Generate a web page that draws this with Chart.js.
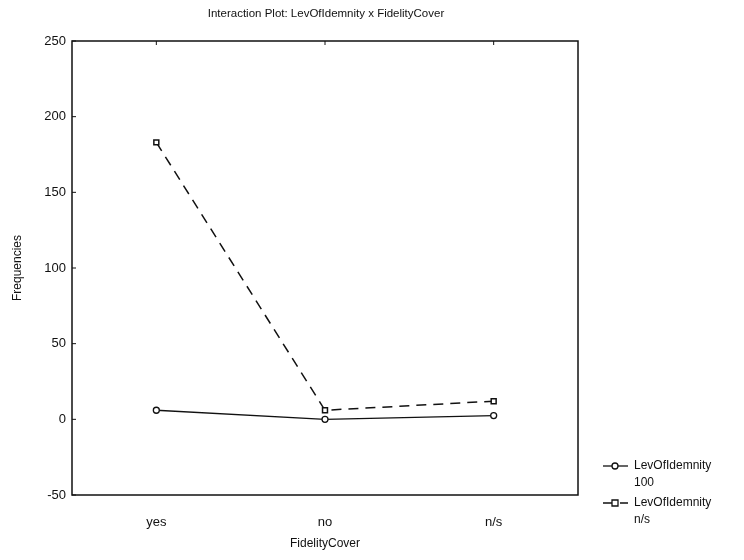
<!DOCTYPE html>
<html>
<head>
<meta charset="utf-8">
<script src="https://cdn.jsdelivr.net/npm/chart.js@4"></script>
<style>
  html, body { margin: 0; padding: 0; background: #fff; }
  #wrap { width: 744px; height: 560px; position: relative; }
</style>
</head>
<body>
<div id="wrap"><canvas id="chart"></canvas></div>
<script>
// categories and series
const categories = ["yes", "no", "n/s"]
const series100 = [6, 0, 2.5]
const seriesNS = [183, 6, 12]
const seriesNames = [["LevOfIdemnity", "100"], ["LevOfIdemnity", "n/s"]]
const yTicks = [-50, 0, 50, 100, 150, 200, 250]

const FONT = "'Liberation Sans', Arial, sans-serif"

// frame, inward ticks, title and the right-hand legend
const framePlugin = {
  id: "frame",
  afterDraw(chart) {
    const ctx = chart.ctx
    const a = chart.chartArea
    const xs = chart.scales.x
    const ys = chart.scales.y
    ctx.save()
    ctx.strokeStyle = "#111"
    ctx.lineWidth = 1.5
    ctx.strokeRect(a.left, a.top, a.right - a.left, a.bottom - a.top)
    ctx.lineWidth = 1
    yTicks.forEach((v) => {
      const y = ys.getPixelForValue(v)
      ctx.beginPath()
      ctx.moveTo(a.left, y)
      ctx.lineTo(a.left + 4, y)
      ctx.stroke()
    })
    categories.forEach((c, i) => {
      const x = xs.getPixelForValue(i)
      ctx.beginPath()
      ctx.moveTo(x, a.top)
      ctx.lineTo(x, a.top + 4)
      ctx.stroke()
    })

    // title
    ctx.fillStyle = "#111"
    ctx.font = "11.5px " + FONT
    ctx.textAlign = "center"
    ctx.textBaseline = "middle"
    ctx.fillText("Interaction Plot: LevOfIdemnity x FidelityCover", 326, 14)

    // legend
    ctx.textAlign = "left"
    ctx.font = "12px " + FONT
    chart.data.datasets.forEach((ds, i) => {
      const y0 = 466 + i * 37
      ctx.strokeStyle = "#111"
      ctx.lineWidth = 1.3
      ctx.setLineDash(ds.borderDash || [])
      ctx.beginPath()
      ctx.moveTo(603, y0)
      ctx.lineTo(628, y0)
      ctx.stroke()
      ctx.setLineDash([])
      ctx.fillStyle = "#fff"
      ctx.beginPath()
      if (ds.pointStyle === "rect") {
        ctx.rect(612, y0 - 3, 6, 6)
      } else {
        ctx.arc(615, y0, 3, 0, Math.PI * 2)
      }
      ctx.fill()
      ctx.stroke()
      ctx.fillStyle = "#111"
      ctx.fillText(seriesNames[i][0], 634, y0)
      ctx.fillText(seriesNames[i][1], 634, y0 + 17)
    })
    ctx.restore()
  },
}

const ctx = document.getElementById("chart").getContext("2d")
new Chart(ctx, {
  type: "line",
  data: {
    labels: categories,
    datasets: [
      {
        label: seriesNames[0].join(" "),
        data: series100,
        borderColor: "#111",
        borderWidth: 1.3,
        pointStyle: "circle",
        pointRadius: 3,
        pointBackgroundColor: "#fff",
        pointBorderColor: "#111",
        pointBorderWidth: 1.3,
        tension: 0,
      },
      {
        label: seriesNames[1].join(" "),
        data: seriesNS,
        borderColor: "#111",
        borderWidth: 1.5,
        borderDash: [10, 7],
        pointStyle: "rect",
        pointRadius: 3.5,
        pointBackgroundColor: "#fff",
        pointBorderColor: "#111",
        pointBorderWidth: 1.5,
        tension: 0,
      },
    ],
  },
  options: {
    responsive: true,
    maintainAspectRatio: false,
    animation: false,
    layout: { padding: { top: 41, right: 166, left: 0, bottom: 0 } },
    plugins: {
      legend: { display: false },
      title: { display: false },
      tooltip: { enabled: false },
    },
    scales: {
      x: {
        offset: true,
        grid: { display: false, drawTicks: false },
        border: { display: false },
        ticks: { color: "#111", font: { family: FONT, size: 13 }, padding: 20 },
        title: {
          display: true,
          text: "FidelityCover",
          color: "#111",
          font: { family: FONT, size: 12 },
          padding: { top: 4, bottom: 9 },
        },
        afterFit(scale) {
          scale.height = 65
        },
      },
      y: {
        min: -50,
        max: 250,
        afterBuildTicks(scale) {
          scale.ticks = yTicks.map((v) => ({ value: v }))
        },
        grid: { display: false, drawTicks: false },
        border: { display: false },
        ticks: { color: "#111", font: { family: FONT, size: 13 }, padding: 6 },
        title: {
          display: true,
          text: "Frequencies",
          color: "#111",
          font: { family: FONT, size: 12 },
          padding: { top: 10, bottom: 4 },
        },
        afterFit(scale) {
          scale.width = 72
        },
      },
    },
  },
  plugins: [framePlugin],
})
</script>
</body>
</html>
